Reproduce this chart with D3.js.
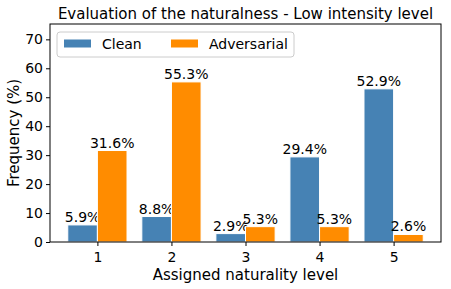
<!DOCTYPE html>
<html>
<head>
<meta charset="utf-8">
<script src="https://cdn.jsdelivr.net/npm/d3@7"></script>
<style>
  body { margin: 0; background: #fff; }
  text { font-family: "DejaVu Sans", sans-serif; fill: #000; }
</style>
</head>
<body>
<div id="chart"></div>
<script>
const levels = [1, 2, 3, 4, 5];
const clean = [5.9, 8.8, 2.9, 29.4, 52.9];
const adversarial = [31.6, 55.3, 5.3, 5.3, 2.6];
const yTicks = [0, 10, 20, 30, 40, 50, 60, 70];
const seriesNames = ["Clean", "Adversarial"];
const colors = ["#4682B4", "#FF8C00"];

const width = 451, height = 289;
const margin = { left: 50, right: 10, top: 24, bottom: 47 };
const barW = 0.4;

const svg = d3.select("#chart").append("svg")
  .attr("width", width).attr("height", height);

const x = d3.scaleLinear().domain([0.36, 5.64]).range([margin.left, width - margin.right]);
const y = d3.scaleLinear().domain([0, 75.3]).range([height - margin.bottom, margin.top]);

// bars + value labels
const series = [clean, adversarial];
series.forEach((vals, si) => {
  const off = si === 0 ? -barW : 0;
  svg.append("g").selectAll("rect")
    .data(vals)
    .join("rect")
    .attr("x", (d, i) => x(levels[i] + off))
    .attr("width", x(barW) - x(0))
    .attr("y", d => y(d))
    .attr("height", d => y(0) - y(d))
    .attr("fill", colors[si])
    .attr("stroke", "#fff")
    .attr("stroke-width", 1);

  svg.append("g").selectAll("text")
    .data(vals)
    .join("text")
    .attr("x", (d, i) => x(levels[i] + off + barW / 2))
    .attr("y", d => y(d) - 3)
    .attr("text-anchor", "middle")
    .attr("font-size", "14px")
    .text(d => d.toFixed(1) + "%");
});

// axes
const xAxis = d3.axisBottom(x).tickValues(levels).tickFormat(d3.format("d")).tickSize(4).tickPadding(6);
const yAxis = d3.axisLeft(y).tickValues(yTicks).tickSize(4).tickPadding(3);

const gx = svg.append("g").attr("transform", `translate(0,${height - margin.bottom})`).call(xAxis);
const gy = svg.append("g").attr("transform", `translate(${margin.left},0)`).call(yAxis);
[gx, gy].forEach(g => {
  g.select(".domain").remove();
  g.selectAll("text").attr("font-size", "14px").attr("font-family", "DejaVu Sans");
  g.selectAll("line").attr("stroke", "#000");
});

// frame
svg.append("rect")
  .attr("x", margin.left).attr("y", margin.top)
  .attr("width", width - margin.left - margin.right)
  .attr("height", height - margin.top - margin.bottom)
  .attr("fill", "none").attr("stroke", "#000").attr("stroke-width", 1);

// title & labels
svg.append("text")
  .attr("x", (margin.left + width - margin.right) / 2).attr("y", 19)
  .attr("text-anchor", "middle").attr("font-size", "15px")
  .text("Evaluation of the naturalness - Low intensity level");

svg.append("text")
  .attr("x", (margin.left + width - margin.right) / 2).attr("y", 280)
  .attr("text-anchor", "middle").attr("font-size", "15px")
  .text("Assigned naturality level");

svg.append("text")
  .attr("transform", `translate(19,${(margin.top + height - margin.bottom) / 2}) rotate(-90)`)
  .attr("text-anchor", "middle").attr("font-size", "15px")
  .text("Frequency (%)");

// legend
const lg = svg.append("g").attr("transform", "translate(57,32)");
lg.append("rect").attr("width", 237).attr("height", 25).attr("rx", 3)
  .attr("fill", "#fff").attr("fill-opacity", 0.8).attr("stroke", "#ccc");
const lx = [7, 114];
seriesNames.forEach((name, i) => {
  lg.append("rect").attr("x", lx[i]).attr("y", 7.5).attr("width", 27).attr("height", 8).attr("fill", colors[i]);
  lg.append("text").attr("x", lx[i] + 38).attr("y", 17).attr("font-size", "14px").text(name);
});
</script>
</body>
</html>
